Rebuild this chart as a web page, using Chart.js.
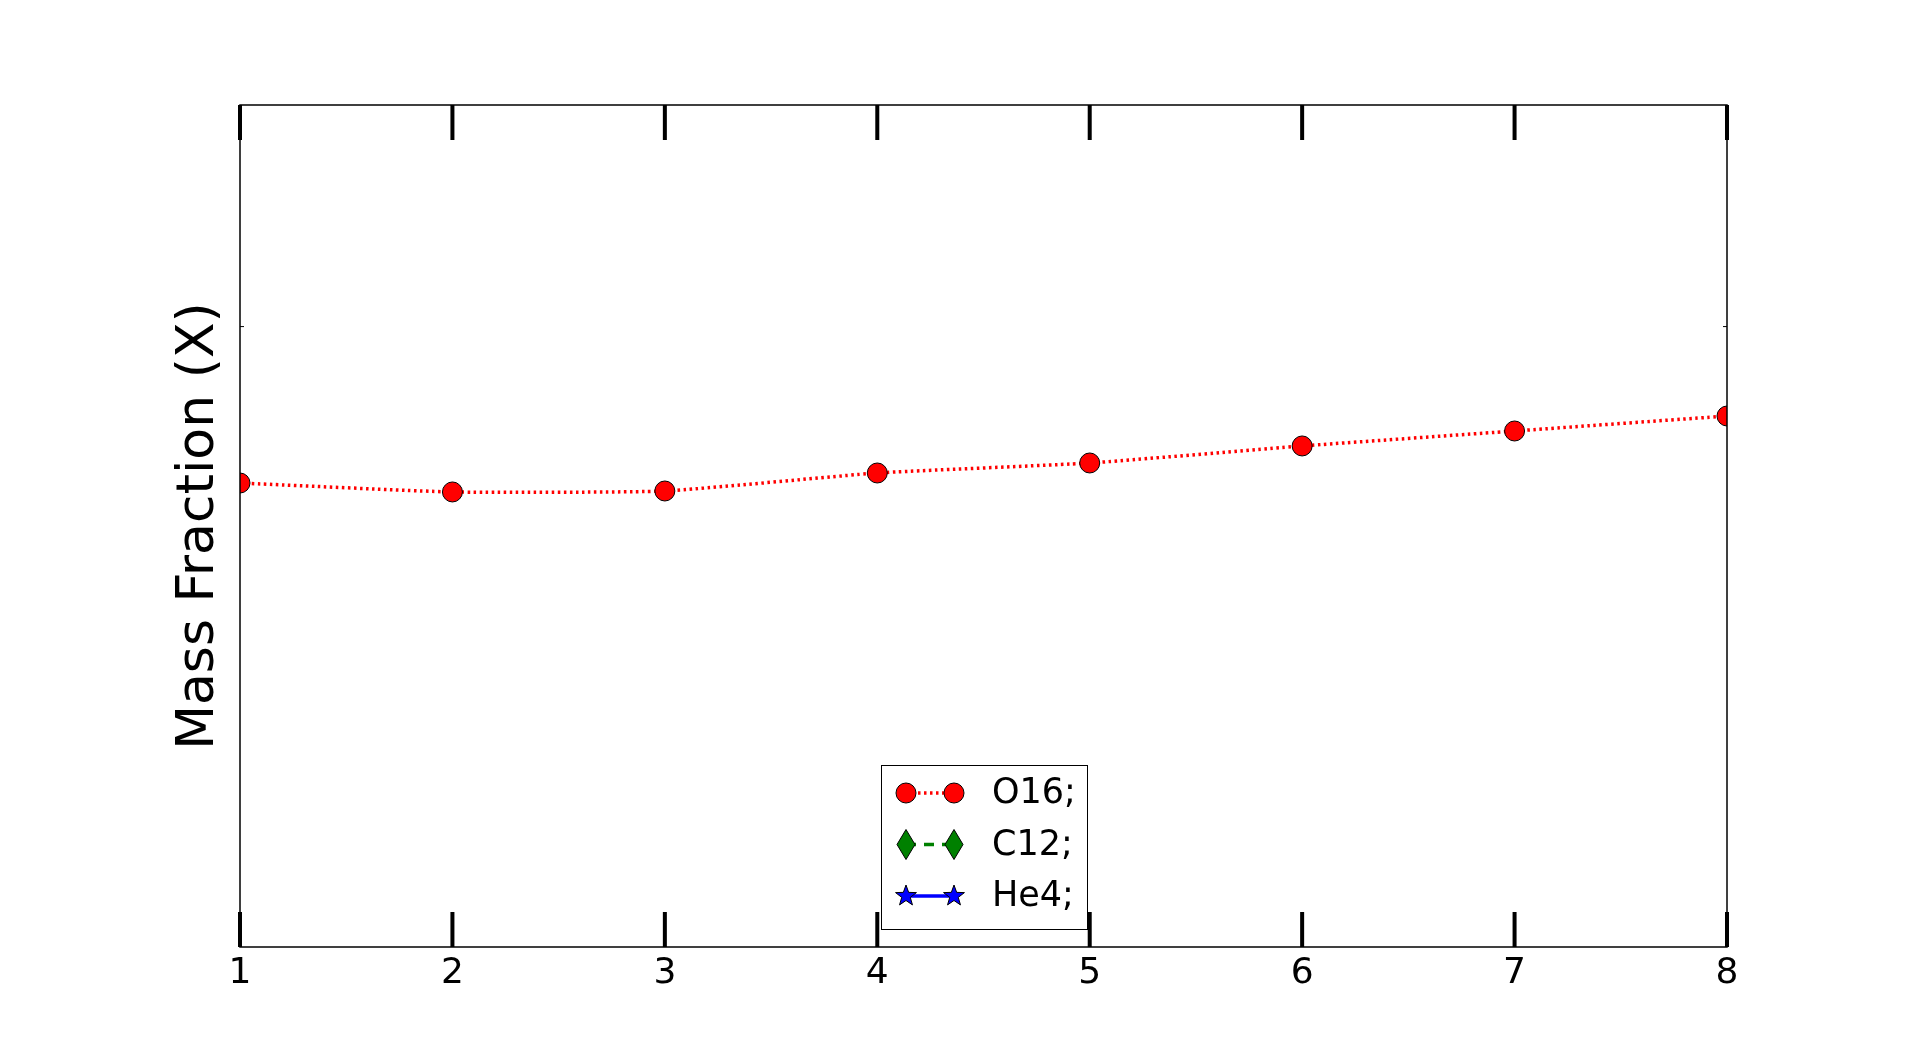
<!DOCTYPE html>
<html>
<head>
<meta charset="utf-8">
<title>Mass Fraction</title>
<script src="https://cdn.jsdelivr.net/npm/chart.js@4.4.1/dist/chart.umd.min.js"></script>
<style>
  html, body { margin: 0; padding: 0; background: #fff; }
  canvas { display: block; }
</style>
</head>
<body>
<canvas id="massChart" width="1918" height="1052"></canvas>
<script>
// === Data ===
const steps = [1, 2, 3, 4, 5, 6, 7, 8];
const o16 = [0.5235, 0.5134, 0.5145, 0.5348, 0.5461, 0.5653, 0.5822, 0.5991];
const c12 = [];   // not visible inside the plotted range
const he4 = [];   // not visible inside the plotted range
const xTicks = [1, 2, 3, 4, 5, 6, 7, 8];
const yTicks = [0.7];

const FONT = "'DejaVu Sans', sans-serif";

// === Frame, inside ticks and legend (matplotlib look) ===
const framePlugin = {
  id: "frame",
  afterDatasetsDraw(chart) {
    const { ctx, chartArea: a, scales } = chart;
    ctx.save();
    ctx.strokeStyle = "#000";
    ctx.lineWidth = 1.5;
    ctx.strokeRect(a.left, a.top, a.right - a.left, a.bottom - a.top);

    // major x ticks, inside, top and bottom
    ctx.lineWidth = 4;
    xTicks.forEach(v => {
      const x = scales.x.getPixelForValue(v);
      ctx.beginPath();
      ctx.moveTo(x, a.bottom); ctx.lineTo(x, a.bottom - 35);
      ctx.moveTo(x, a.top); ctx.lineTo(x, a.top + 35);
      ctx.stroke();
    });

    // small y ticks
    ctx.lineWidth = 1;
    yTicks.forEach(v => {
      const y = scales.y.getPixelForValue(v);
      ctx.beginPath();
      ctx.moveTo(a.left, y); ctx.lineTo(a.left + 4, y);
      ctx.moveTo(a.right, y); ctx.lineTo(a.right - 4, y);
      ctx.stroke();
    });
    ctx.restore();
  }
};

function drawMarker(ctx, style, x, y, fill) {
  ctx.beginPath();
  if (style === "circle") {
    ctx.arc(x, y, 10, 0, Math.PI * 2);
  } else if (style === "diamond") {
    ctx.moveTo(x, y - 15); ctx.lineTo(x + 9, y);
    ctx.lineTo(x, y + 15); ctx.lineTo(x - 9, y);
    ctx.closePath();
  } else {
    for (let i = 0; i < 10; i++) {
      const r = i % 2 === 0 ? 11 : 4.5;
      const ang = -Math.PI / 2 + i * Math.PI / 5;
      const px = x + r * Math.cos(ang), py = y + r * Math.sin(ang);
      i === 0 ? ctx.moveTo(px, py) : ctx.lineTo(px, py);
    }
    ctx.closePath();
  }
  ctx.fillStyle = fill;
  ctx.fill();
  ctx.lineWidth = 1;
  ctx.strokeStyle = "#000";
  ctx.stroke();
}

const legendPlugin = {
  id: "mplLegend",
  afterDraw(chart) {
    const { ctx } = chart;
    const box = { x: 881, y: 765, w: 206, h: 164 };
    ctx.save();
    ctx.fillStyle = "#fff";
    ctx.fillRect(box.x, box.y, box.w, box.h);
    ctx.strokeStyle = "#000";
    ctx.lineWidth = 1;
    ctx.strokeRect(box.x + 0.5, box.y + 0.5, box.w, box.h);

    chart.data.datasets.forEach((ds, i) => {
      const y = 793 + i * 51.5;
      ctx.strokeStyle = ds.borderColor;
      ctx.lineWidth = ds.borderWidth;
      ctx.setLineDash(ds.borderDash || []);
      ctx.beginPath();
      ctx.moveTo(906, y); ctx.lineTo(954, y);
      ctx.stroke();
      ctx.setLineDash([]);
      drawMarker(ctx, ds.markerShape, 906, y, ds.pointBackgroundColor);
      drawMarker(ctx, ds.markerShape, 954, y, ds.pointBackgroundColor);
      ctx.fillStyle = "#000";
      ctx.font = "35px " + FONT;
      ctx.textBaseline = "middle";
      ctx.textAlign = "left";
      ctx.fillText(ds.label, 992, y + 1);
    });
    ctx.restore();
  }
};

new Chart(document.getElementById("massChart"), {
  type: "line",
  data: {
    datasets: [
      {
        label: "O16;",
        data: steps.map((s, i) => ({ x: s, y: o16[i] })),
        borderColor: "#ff0000",
        borderWidth: 3.5,
        borderDash: [2.5, 3.5],
        pointBackgroundColor: "#ff0000",
        pointBorderColor: "#000",
        pointBorderWidth: 1,
        pointRadius: 10,
        markerShape: "circle",
        tension: 0.15,
        clip: 0
      },
      {
        label: "C12;",
        data: c12.map((v, i) => ({ x: steps[i], y: v })),
        borderColor: "#008000",
        borderWidth: 3.5,
        borderDash: [10, 8],
        pointBackgroundColor: "#008000",
        pointStyle: "rectRot",
        pointRadius: 12,
        markerShape: "diamond",
        clip: 0
      },
      {
        label: "He4;",
        data: he4.map((v, i) => ({ x: steps[i], y: v })),
        borderColor: "#0000ff",
        borderWidth: 3.5,
        pointBackgroundColor: "#0000ff",
        pointStyle: "star",
        pointRadius: 11,
        markerShape: "star",
        clip: 0
      }
    ]
  },
  options: {
    responsive: false,
    devicePixelRatio: 1,
    animation: false,
    layout: { padding: { left: 0, right: 191, top: 105, bottom: 0 } },
    plugins: { legend: { display: false }, tooltip: { enabled: false } },
    scales: {
      x: {
        type: "linear",
        min: 1,
        max: 8,
        afterBuildTicks: s => { s.ticks = xTicks.map(v => ({ value: v })); },
        afterFit: s => { s.height = 105; },
        grid: { display: false, drawTicks: false },
        border: { display: false },
        ticks: {
          color: "#000",
          padding: 5,
          maxRotation: 0,
          font: { family: FONT, size: 36 }
        }
      },
      y: {
        type: "linear",
        min: 0,
        max: 0.95,
        afterBuildTicks: s => { s.ticks = yTicks.map(v => ({ value: v })); },
        afterFit: s => { s.width = 240; },
        grid: { display: false, drawTicks: false },
        border: { display: false },
        ticks: { display: false },
        title: {
          display: true,
          text: "Mass Fraction (X)",
          color: "#000",
          padding: { top: 168, bottom: 0 },
          font: { family: FONT, size: 52 }
        }
      }
    }
  },
  plugins: [framePlugin, legendPlugin]
});
</script>
</body>
</html>
